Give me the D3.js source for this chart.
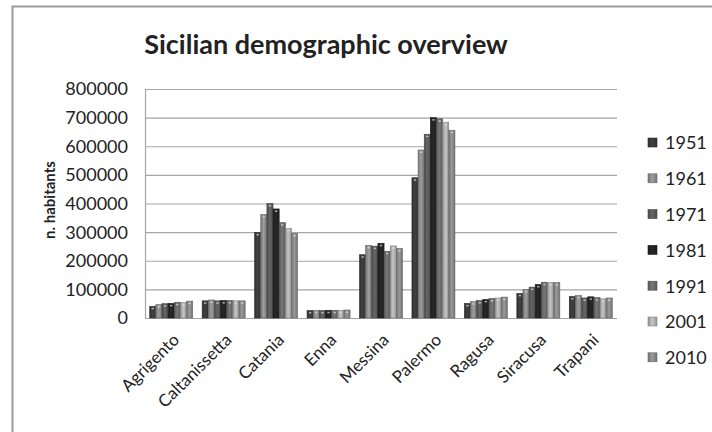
<!DOCTYPE html>
<html>
<head>
<meta charset="utf-8">
<script src="https://cdn.jsdelivr.net/npm/d3@7"></script>
<style>
  body { margin: 0; background: #fff; }
  text { font-family: Lato, "Open Sans", sans-serif; fill: #222; }
</style>
</head>
<body>
<div id="vis"></div>
<script>
const w = 712;
const h = 432;

const cities = ["Agrigento", "Caltanissetta", "Catania", "Enna", "Messina", "Palermo", "Ragusa", "Siracusa", "Trapani"];
const years = ["1951", "1961", "1971", "1981", "1991", "2001", "2010"];
// population by city, one row per year
const pop1951 = [41000, 60000, 299000, 26000, 221000, 490000, 51000, 86000, 75000];
const pop1961 = [47000, 63000, 362000, 27000, 254000, 587000, 57000, 100000, 79000];
const pop1971 = [50000, 60000, 400000, 26000, 251000, 642000, 61000, 108000, 70000];
const pop1981 = [51000, 61000, 381000, 27000, 261000, 700000, 65000, 117000, 74000];
const pop1991 = [55000, 61000, 333000, 27000, 233000, 696000, 68000, 125000, 71000];
const pop2001 = [54000, 60000, 313000, 27000, 252000, 684000, 70000, 124000, 67000];
const pop2010 = [59000, 60000, 295000, 28000, 243000, 656000, 73000, 124000, 70000];
const yTicks = [0, 100000, 200000, 300000, 400000, 500000, 600000, 700000, 800000];

const series = [pop1951, pop1961, pop1971, pop1981, pop1991, pop2001, pop2010];
const colors = ["#3a3a3a", "#8e8e8e", "#5c5c5c", "#242424", "#6c6c6c", "#b2b2b2", "#8a8a8a"];

const margin = ({ top: 89, right: 95, bottom: 114, left: 145 });

const svg = d3.select('#vis')
    .append('svg')
    .attr('width', w)
    .attr('height', h)

// outer frame
svg.append('rect')
    .attr('x', 12.5).attr('y', 6.5)
    .attr('width', w + 20).attr('height', h + 20)
    .attr('fill', 'none')
    .attr('stroke', '#9a9a9a')
    .attr('stroke-width', 2)

const defs = svg.append('defs')
colors.forEach((c, i) => {
    let g = defs.append('linearGradient').attr('id', 'g' + i)
        .attr('x1', '0%').attr('x2', '100%').attr('y1', '0%').attr('y2', '0%')
    g.append('stop').attr('offset', '0%').attr('stop-color', d3.color(c).darker(0.6))
    g.append('stop').attr('offset', '45%').attr('stop-color', d3.color(c).brighter(0.3))
    g.append('stop').attr('offset', '100%').attr('stop-color', d3.color(c).darker(0.5))
})

let xScale = d3.scaleBand()
    .domain(cities)
    .range([margin.left, w - margin.right])
    .paddingInner(0.18)
    .paddingOuter(0.09);

let xInner = d3.scaleBand()
    .domain(years)
    .range([0, xScale.bandwidth()]);

let yScale = d3.scaleLinear()
    .domain([0, 800000])
    .range([h - margin.bottom, margin.top]);

// gridlines
svg.append('g')
    .selectAll('line')
    .data(yTicks)
    .join('line')
    .attr('x1', margin.left)
    .attr('x2', w - margin.right)
    .attr('y1', d => yScale(d) + 0.5)
    .attr('y2', d => yScale(d) + 0.5)
    .attr('stroke', '#a6a6a6')
    .attr('stroke-width', 1.2)

svg.append('line')
    .attr('x1', margin.left + 0.5).attr('x2', margin.left + 0.5)
    .attr('y1', yScale(800000)).attr('y2', yScale(0))
    .attr('stroke', '#a6a6a6')
    .attr('stroke-width', 1.2)

// y tick labels
svg.append('g')
    .selectAll('text')
    .data(yTicks)
    .join('text')
    .attr('x', margin.left - 17)
    .attr('y', d => yScale(d))
    .attr('dy', '0.36em')
    .attr('text-anchor', 'end')
    .attr('font-size', '18px')
    .text(d => d)

// bars
const rows = [];
cities.forEach((c, ci) => {
    years.forEach((y, yi) => rows.push({ city: c, year: y, si: yi, value: series[yi][ci] }))
})

svg.append('g')
    .selectAll('rect')
    .data(rows)
    .join('rect')
    .attr('x', d => xScale(d.city) + xInner(d.year))
    .attr('y', d => yScale(d.value))
    .attr('width', xInner.bandwidth())
    .attr('height', d => yScale(0) - yScale(d.value))
    .attr('fill', d => 'url(#g' + d.si + ')')
    .attr('stroke', d => d3.color(colors[d.si]).darker(0.8))
    .attr('stroke-width', 0.6)

// small highlight caps on top of each bar
svg.append('g')
    .selectAll('rect')
    .data(rows)
    .join('rect')
    .attr('x', d => xScale(d.city) + xInner(d.year) + xInner.bandwidth() * 0.3)
    .attr('y', d => yScale(d.value) + 1.5)
    .attr('width', xInner.bandwidth() * 0.4)
    .attr('height', 1.5)
    .attr('fill', '#e0e0e0')
    .attr('opacity', 0.7)

// category labels
svg.append('g')
    .selectAll('text')
    .data(cities)
    .join('text')
    .attr('transform', d => 'translate(' + (xScale(d) + xScale.bandwidth() / 2 + 9) + ',' + (yScale(0) + 23) + ') rotate(-45)')
    .attr('text-anchor', 'end')
    .attr('font-size', '17px')
    .text(d => d)

// title
svg.append('text')
    .attr('x', 326)
    .attr('y', 54)
    .attr('text-anchor', 'middle')
    .attr('font-size', '27px')
    .attr('font-weight', 'bold')
    .attr('fill', '#111')
    .text('Sicilian demographic overview')

// y label
svg.append('text')
    .attr('transform', 'translate(55,' + 200 + ') rotate(-90)')
    .attr('text-anchor', 'middle')
    .attr('font-size', '15px')
    .attr('font-weight', 'bold')
    .text('n. habitants')

// legend
let legend = svg.append('g')
    .selectAll('g')
    .data(years)
    .join('g')
    .attr('transform', (d, i) => 'translate(648,' + (143 + i * 35.8) + ')')

legend.append('rect')
    .attr('x', 0).attr('y', -5)
    .attr('width', 9).attr('height', 9)
    .attr('fill', (d, i) => 'url(#g' + i + ')')
    .attr('stroke', (d, i) => d3.color(colors[i]).darker(0.8))
    .attr('stroke-width', 0.6)

legend.append('text')
    .attr('x', 17)
    .attr('y', 0)
    .attr('dy', '0.36em')
    .attr('font-size', '18px')
    .text(d => d)
</script>
</body>
</html>
